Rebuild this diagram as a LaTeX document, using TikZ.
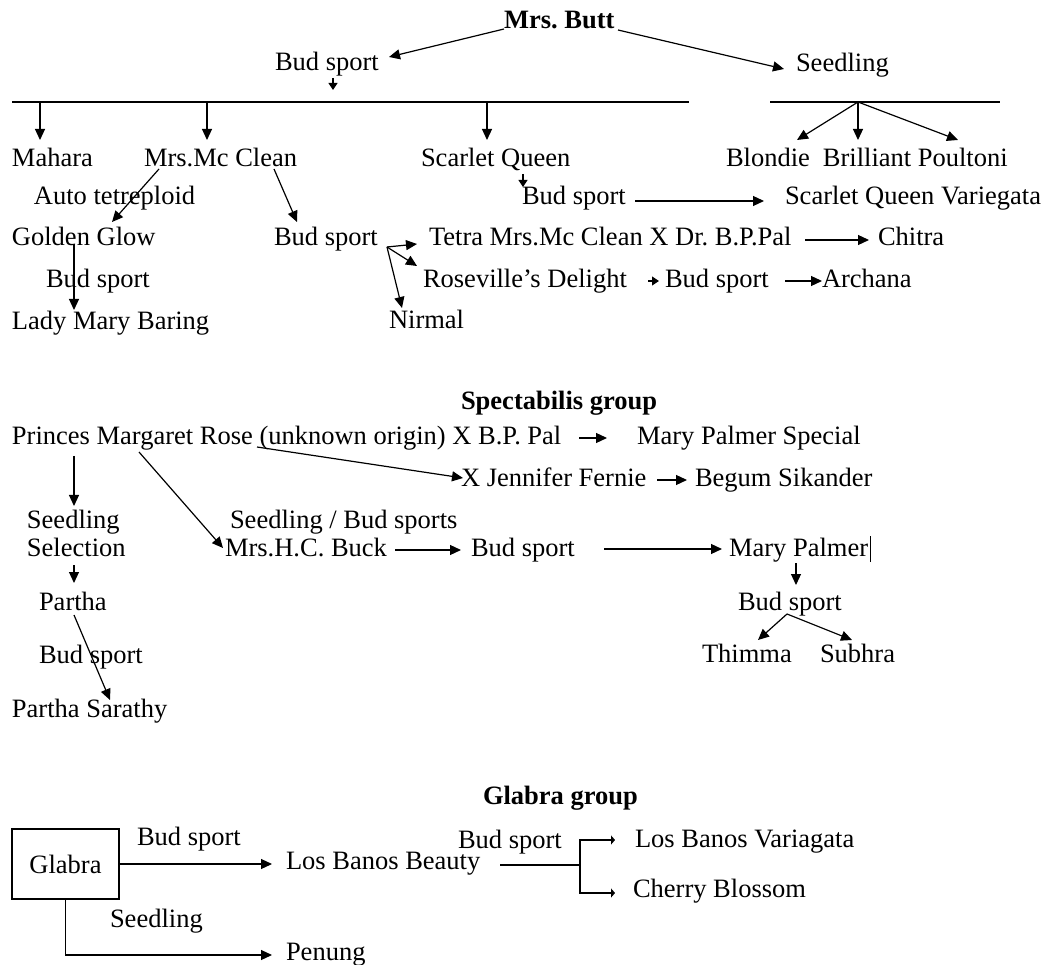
\documentclass[tikz,border=0pt]{standalone}
\usepackage{fontspec}
\setmainfont{Liberation Serif}
\usetikzlibrary{arrows.meta,calc}
\frenchspacing
\begin{document}
\begin{tikzpicture}[x=1pt,y=-1pt,
  lbl/.style={anchor=base west,inner sep=0pt,outer sep=0pt,font=\fontsize{26.5}{30}\selectfont},
  hd/.style={lbl,font=\fontsize{26.5}{30}\selectfont\bfseries},
  con/.style={line width=1.2pt},
  arr/.style={con,-{Triangle[length=11pt,width=10pt]}},
  sarr/.style={con,-{Triangle[length=7pt,width=9pt]}}]
\useasboundingbox (0,0) rectangle (1053,965);
% ---------- Mrs. Butt group ----------
\node[hd] (butt) at (504,29) {Mrs. Butt};
\node[lbl] (bud1) at (275,71) {Bud sport};
\node[lbl] (seed1) at (796,72) {Seedling};
\node[lbl] (mahara) at (12,167) {Mahara};
\node[lbl] (mcclean) at (144,167) {Mrs.Mc Clean};
\node[lbl] (scarlet) at (421,167) {Scarlet Queen};
\node[lbl] (blondie) at (726,167) {Blondie};
\node[lbl] (brilliant) at ($(blondie.base east)+(13,0)$) {Brilliant};
\node[lbl] (poultoni) at ($(brilliant.base east)+(6.6,0)$) {Poultoni};
\node[lbl] (auto) at (34,205) {Auto tetreploid};
\node[lbl] (budsq) at (522,205) {Bud sport};
\node[lbl] (sqv) at (785,205) {Scarlet Queen Variegata};
\node[lbl] (golden) at (12,246) {Golden Glow};
\node[lbl] (bud2) at (274,246) {Bud sport};
\node[lbl] (tetra) at (429,246) {Tetra Mrs.Mc Clean X Dr. B.P.Pal};
\node[lbl] (chitra) at (878,246) {Chitra};
\node[lbl] (bud3) at (46,288) {Bud sport};
\node[lbl] (rose) at (423,288) {Roseville’s Delight};
\node[lbl] (bud4) at (665,288) {Bud sport};
\node[lbl] (archana) at (822,288) {Archana};
\node[lbl] (lady) at (12,330) {Lady Mary Baring};
\node[lbl] (nirmal) at (389,329) {Nirmal};

\coordinate (l1a) at (12,102);
\coordinate (l1b) at (689,102);
\coordinate (l2a) at (770,102);
\coordinate (l2b) at (1000,102);
\coordinate (l2o) at (858,102);
\draw[arr] (504,29) -- (389,57);
\draw[arr] (618,30) -- (784,69);
\draw[sarr] (333,78) -- (333,90);
\draw[con] (l1a) -- (l1b);
\draw[arr] (40,102) -- (40,140);
\draw[arr] (207,102) -- (207,140);
\draw[arr] (487,102) -- (487,140);
\draw[con] (l2a) -- (l2b);
\draw[arr] (l2o) -- (797,140);
\draw[arr] (l2o) -- (858,140);
\draw[arr] (l2o) -- (958,140);
\draw[arr] (159,169) -- (112,222);
\draw[arr] (274,169) -- (297,222);
\draw[sarr] (523,174) -- (523,187);
\draw[arr] (635,201) -- (764,201);
\coordinate (b2o) at (387,247);
\draw[arr] (b2o) -- (417,244);
\draw[arr] (b2o) -- (417,266);
\draw[arr] (b2o) -- (402,308);
\draw[arr] (805,240) -- (869,240);
\draw[arr] (74,244) -- (74,310);
\draw[sarr] (648,281) -- (659,281);
\draw[arr] (785,281) -- (822,281);
% ---------- Spectabilis group ----------
\node[hd] (spect) at (461,410) {Spectabilis group};
\node[lbl] (princes) at (12,445) {Princes Margaret Rose (unknown origin) X B.P. Pal};
\node[lbl] (mps) at (637,445) {Mary Palmer Special};
\node[lbl] (jen) at (461,487) {X Jennifer Fernie};
\node[lbl] (begum) at (695,487) {Begum Sikander};
\node[lbl] (seedl) at (27,529) {Seedling};
\node[lbl] (selec) at (27,556) {Selection};
\node[lbl] (sbs) at (230,529) {Seedling / Bud sports};
\node[lbl] (hcb) at (225,556) {Mrs.H.C. Buck};
\node[lbl] (bud5) at (471,556) {Bud sport};
\node[lbl] (mp) at (729,556) {Mary Palmer};
\node[lbl] (bud6) at (738,610) {Bud sport};
\node[lbl] (thimma) at (702,662) {Thimma};
\node[lbl] (subhra) at (820,662) {Subhra};
\node[lbl] (partha) at (39,610) {Partha};
\node[lbl] (bud7) at (39,663) {Bud sport};
\node[lbl] (ps) at (12,717) {Partha Sarathy};

\draw[arr] (579,438) -- (607,438);
\draw[arr] (257,447) -- (463,478);
\draw[arr] (657,480) -- (687,480);
\draw[arr] (74,456) -- (74,506);
\draw[arr] (139,452) -- (223,548);
\draw[arr] (74,565) -- (74,583);
\draw[arr] (74,615) -- (110,700);
\draw[arr] (395,550) -- (461,550);
\draw[arr] (604,549) -- (722,549);
\draw[line width=0.8pt] ($(mp.base east)+(2,6)$) -- ($(mp.base east)+(2,-20)$);
\draw[arr] (796,563) -- (796,585);
\coordinate (b6o) at (787,614);
\draw[arr] (b6o) -- (758,640);
\draw[arr] (b6o) -- (852,640);
% ---------- Glabra group ----------
\node[hd] (glabgrp) at (483,804) {Glabra group};
\node[draw,line width=1.2pt,minimum width=107pt,minimum height=70pt,inner sep=0pt,
      font=\fontsize{26.5}{30}\selectfont] (glabra) at (65.5,864) {Glabra};
\node[lbl] (budg1) at (137,845) {Bud sport};
\node[lbl] (lbb) at (286,869) {Los Banos Beauty};
\node[lbl] (budg2) at (458,848) {Bud sport};
\node[lbl] (lbv) at (635,847) {Los Banos Variagata};
\node[lbl] (cb) at (633,897) {Cherry Blossom};
\node[lbl] (seedg) at (110,927) {Seedling};
\node[lbl] (penung) at (286,960) {Penung};

\draw[arr] (glabra.east) -- (272,864);
\coordinate (fork) at (580,865);
\draw[con] (500,865) -- (fork);
\draw[con] (580,840) -- (580,893);
\draw[con,-{Triangle[length=4pt,width=9pt]}] (579.4,840) -- (615,840);
\draw[con,-{Triangle[length=4pt,width=9pt]}] (579.4,893) -- (615,893);
\draw[arr] (glabra.south) |- (272,955);
\end{tikzpicture}
\end{document}
